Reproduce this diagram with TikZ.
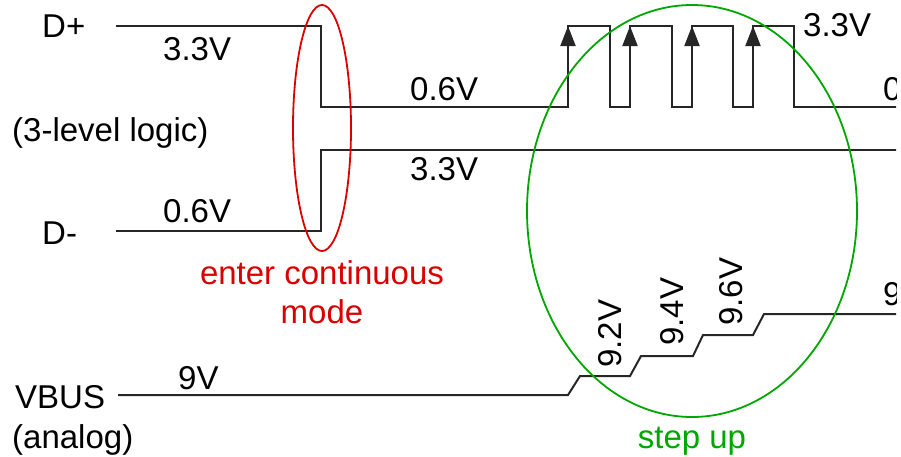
\documentclass[tikz,border=0pt]{standalone}
\usepackage{fontspec}
\setmainfont{Liberation Sans}
\usetikzlibrary{arrows.meta}
\begin{document}
\begin{tikzpicture}[x=1pt, y=-1pt,
  every node/.style={font=\fontsize{33}{39}\selectfont, inner sep=0pt},
  wave/.style={line width=2pt, black!85},
  edge/.style={wave, -{Triangle[length=20pt,width=15pt]}},
  ring/.style={line width=1.8pt}]
\useasboundingbox (0,0) rectangle (901,456);
\clip (0,0) rectangle (896,456);
% D+ and D- lines
\draw[wave] (116,26) -- (321,26) -- (321,107) -- (568,107)
  -- (568,26) -- (610,26) -- (610,107) -- (630,107)
  -- (630,26) -- (672,26) -- (672,107) -- (692,107)
  -- (692,26) -- (733,26) -- (733,107) -- (753,107)
  -- (753,26) -- (794,26) -- (794,107) -- (901,107);
\foreach \x in {568,630,692,753}
  \draw[edge] (\x,107) -- (\x,26);
\draw[wave] (116,231) -- (321,231) -- (321,150) -- (901,150);
% VBUS
\draw[wave] (118,395) -- (568,395) -- (580,376) -- (630,376) -- (641,356)
  -- (693,356) -- (703,335) -- (753,335) -- (764,314) -- (901,314);
% labels
\node[anchor=base west] (dp) at (42,37) {D+};
\node[anchor=base west] (dphi) at (163,60) {3.3V};
\node[anchor=base west] (logic) at (12,141) {(3-level logic)};
\node[anchor=base west] (dmlo) at (163,222) {0.6V};
\node[anchor=base west] (dm) at (42,244) {D-};
\node[anchor=base west] (dplo) at (410,100) {0.6V};
\node[anchor=base west] (dmhi) at (410,180) {3.3V};
\node[anchor=base west] (dphi2) at (803,36) {3.3V};
\node[anchor=base west] (dplo2) at (883,100) {0.6V};
\node[anchor=base west] (vb) at (178,389) {9V};
\node[anchor=base west] (vbus) at (15,408) {VBUS};
\node[anchor=base west] (analog) at (12,448) {(analog)};
\node[rotate=90, anchor=west] (v92) at (610,368) {9.2V};
\node[rotate=90, anchor=west] (v94) at (672,346) {9.4V};
\node[rotate=90, anchor=west] (v96) at (731,326) {9.6V};
\node[anchor=base west] (v98) at (883,305) {9.8V};
% highlights
\draw[ring, red!85!black] (322,128) ellipse (29 and 123);
\node[anchor=base, text=red!85!black] (enter) at (322,284) {enter continuous};
\node[anchor=base, text=red!85!black] (mode) at (322,323) {mode};
\draw[ring, green!65!black] (692,211) ellipse (165 and 206);
\node[anchor=base, text=green!65!black] (step) at (692,448) {step up};
\end{tikzpicture}
\end{document}
